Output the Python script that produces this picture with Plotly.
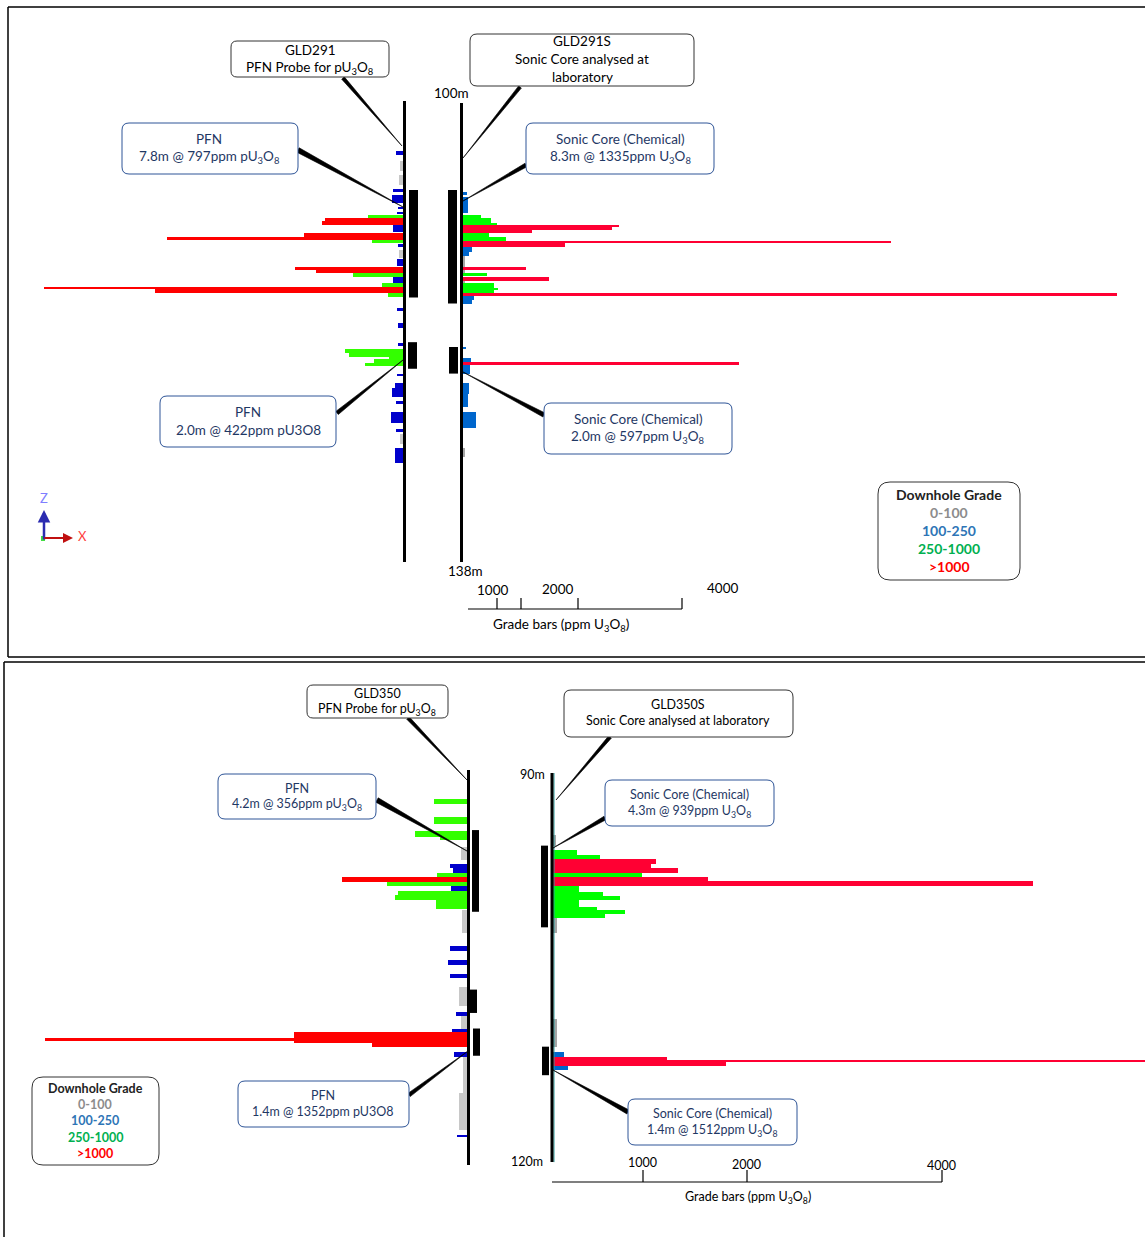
import plotly.graph_objects as go

W, H = 1145, 1237
OFF = 0  # page body margin removed via post_script

# ---------------- DATA ----------------
GRADE_CLASSES = ["0-100", "100-250", "250-1000", ">1000"]

# Panel A - GLD291 (PFN probe, bars plotted to the left)
gld291_from = [104.0, 104.8, 106.0, 107.1, 107.6, 108.6, 109.0, 109.3, 109.5, 109.8,
               110.1, 110.4, 110.8, 111.1, 111.3, 111.7, 112.2, 112.9, 113.6, 113.8,
               114.1, 114.4, 114.9, 115.2, 115.4, 115.7, 117.0, 118.2, 119.9, 120.4,
               120.7, 121.0, 121.2, 121.5, 122.4, 123.2, 123.6, 124.7, 125.6, 127.0,
               127.4, 128.6]
gld291_to = [104.3, 105.6, 106.8, 107.4, 108.3, 108.8, 109.2, 109.5, 109.8, 110.1,
             110.4, 110.7, 111.1, 111.3, 111.6, 111.9, 112.8, 113.5, 113.8, 114.1,
             114.4, 114.9, 115.2, 115.4, 115.7, 116.1, 117.2, 118.6, 120.1, 120.7,
             121.0, 121.2, 121.5, 121.8, 122.6, 123.6, 124.3, 124.9, 126.5, 127.2,
             128.2, 129.8]
gld291_ppm = [131, 56, 75, 187, 206, 93, 112, 654, 1458, 1514,
              187, 187, 1850, 4411, 579, 93, 75, 112, 2019, 1626,
              935, 187, 393, 6710, 4636, 280, 112, 93, 93, 1084,
              1009, 262, 542, 710, 112, 150, 206, 131, 224, 131,
              56, 150]
gld291_cls = [1, 0, 0, 1, 1, 1, 1, 2, 3, 3,
              1, 1, 3, 3, 2, 1, 0, 1, 3, 3,
              2, 1, 2, 3, 3, 2, 1, 1, 1, 2,
              2, 2, 2, 2, 1, 1, 1, 1, 1, 1,
              0, 1]

# Panel A - GLD291S (sonic core, bars plotted to the right)
gld291s_from = [107.4, 107.8, 109.3, 109.5, 109.9, 110.1, 110.3, 110.5, 110.8, 111.1,
                111.4, 111.6, 111.9, 112.3, 112.7, 113.6, 113.85, 114.1, 114.4, 114.7,
                114.9, 115.3, 115.5, 115.7, 116.0, 116.3, 120.2, 121.1, 121.4, 121.7,
                123.2, 124.1, 125.6, 128.6]
gld291s_to = [107.6, 109.1, 109.5, 109.9, 110.1, 110.3, 110.5, 110.8, 111.1, 111.4,
              111.6, 111.9, 112.3, 112.7, 113.6, 113.85, 114.1, 114.3, 114.7, 114.9,
              115.3, 115.5, 115.7, 116.0, 116.3, 116.6, 120.4, 121.4, 121.7, 122.4,
              124.1, 125.2, 126.9, 129.3]
gld291s_ppm = [75, 93, 336, 523, 636, 2916, 2785, 1290, 486, 804,
               8000, 1907, 168, 112, 40, 1178, 40, 449, 1607, 40,
               579, 654, 579, 12224, 206, 168, 56, 150, 5159, 131,
               112, 93, 243, 40]
gld291s_cls = [1, 1, 2, 2, 2, 3, 3, 3, 2, 2,
               3, 3, 1, 1, 0, 3, 0, 2, 3, 0,
               2, 2, 2, 3, 1, 1, 1, 1, 3, 1,
               1, 1, 1, 0]

# Panel B - GLD350 (PFN probe, bars to the left)
gld350_from = [92.0, 93.4, 94.5, 94.9, 95.7, 97.0, 97.3, 97.7, 98.0, 98.4,
               98.7, 99.1, 99.4, 99.8, 100.6, 103.3, 104.4, 105.5, 106.5, 108.4,
               108.7, 109.7, 110.0, 110.4, 110.8, 111.5, 111.9, 114.7, 117.9]
gld350_to = [92.4, 93.9, 94.9, 95.2, 96.7, 97.3, 97.7, 98.0, 98.4, 98.7,
             99.1, 99.4, 99.8, 100.5, 102.3, 103.7, 104.8, 105.8, 108.0, 108.7,
             109.7, 110.0, 110.8, 110.7, 111.1, 111.9, 114.7, 117.5, 118.1]
gld350_ppm = [339, 339, 535, 278, 60, 175, 144, 308, 1285, 823,
              165, 710, 740, 319, 50, 175, 195, 175, 80, 113,
              60, 154, 1779, 4339, 977, 134, 40, 80, 103]
gld350_cls = [2, 2, 2, 2, 0, 1, 1, 2, 3, 2,
              1, 2, 2, 2, 0, 1, 1, 1, 0, 1,
              0, 1, 3, 3, 3, 1, 0, 0, 1]

# Panel B - GLD350S (sonic core, bars to the right)
gld350s_from = [94.8, 95.9, 96.3, 96.6, 97.0, 97.3, 97.7, 98.0, 98.3, 98.7,
                99.2, 99.5, 99.8, 100.3, 100.6, 100.9, 101.2, 109.0, 111.5, 111.9,
                112.2, 112.17, 112.6]
gld350s_to = [95.6, 96.3, 96.6, 97.0, 97.3, 97.7, 98.0, 98.3, 98.7, 99.2,
              99.5, 99.8, 100.3, 100.6, 100.9, 101.2, 102.3, 111.1, 111.9, 112.2,
              112.6, 112.25, 112.9]
gld350s_ppm = [30, 247, 483, 1059, 1008, 1285, 915, 1594, 4936, 267,
               514, 689, 267, 452, 740, 535, 40, 40, 113, 1172,
               1779, 6098, 154]
gld350s_cls = [0, 2, 2, 3, 3, 3, 2, 3, 3, 2,
               2, 2, 2, 2, 2, 2, 0, 0, 1, 3,
               3, 3, 1]

# Mineralised intervals (black blocks)
gld291_int = [(107.2, 116.1), (119.8, 122.0)]
gld291s_int = [(107.2, 116.6), (120.2, 122.4)]
gld350_int = [(94.4, 100.7), (106.7, 108.5), (109.7, 111.8)]
gld350s_int = [(95.6, 101.9), (111.1, 113.3)]

hole_a_depth = (100, 138)
hole_b_depth = (90, 120)
scale_labels = ["1000", "2000", "4000"]

# ---------------- STYLE / LAYOUT ----------------
PFN_COLORS = ["#c8c8c8", "#0000cc", "#33ff00", "#ff0000"]
SONIC_COLORS = ["#a6a6a6", "#0066cc", "#00ff00", "#ff0033"]
LEG_COLORS = ["#8c8c8c", "#2e75b6", "#00b050", "#ff0000"]
FONT = "Lato"
BLUE_TXT = "#1f3864"
BLUE_BORDER = "#2f5597"
FA = 13.5   # panel A text size
FB = 12.5   # panel B text size

# pixel mapping of depth axes
A_PX0, A_D0, A_K = 103, 100.0, 12.08   # panel A: px = 103 + (d-100)*12.08
B_PX0, B_D0, B_K = 773, 90.0, 12.97    # panel B
A_SCALE = 214 / 4000.0   # px per ppm
B_SCALE = 389 / 4000.0

fig = go.Figure()


def add_bars(frm, to, ppm, cls, base, direction, scale, colors, yaxis):
    for c in range(4):
        idx = [i for i in range(len(frm)) if cls[i] == c]
        if not idx:
            continue
        fig.add_trace(go.Bar(
            orientation="h",
            y=[(frm[i] + to[i]) / 2 for i in idx],
            width=[abs(to[i] - frm[i]) for i in idx],
            x=[direction * ppm[i] * scale for i in idx],
            base=base,
            marker=dict(color=colors[c], line=dict(width=0)),
            yaxis=yaxis, xaxis="x", showlegend=False, hoverinfo="skip",
            name=GRADE_CLASSES[c],
        ))


add_bars(gld291_from, gld291_to, gld291_ppm, gld291_cls, 403, -1, A_SCALE, PFN_COLORS, "y")
add_bars(gld291s_from, gld291s_to, gld291s_ppm, gld291s_cls, 463, 1, A_SCALE, SONIC_COLORS, "y")
add_bars(gld350_from, gld350_to, gld350_ppm, gld350_cls, 467, -1, B_SCALE, PFN_COLORS, "y2")
add_bars(gld350s_from, gld350s_to, gld350s_ppm, gld350s_cls, 553, 1, B_SCALE, SONIC_COLORS, "y2")

shapes = []
annotations = []


def pline(x0, y0, x1, y1, color="black", width=1, yref="y3"):
    shapes.append(dict(type="line", xref="x", yref=yref, x0=x0, y0=y0, x1=x1, y1=y1,
                       line=dict(color=color, width=width)))


def rect(x0, y0, x1, y1, yref, fill="black"):
    shapes.append(dict(type="rect", xref="x", yref=yref, x0=x0, y0=y0, x1=x1, y1=y1,
                       fillcolor=fill, line=dict(width=0), layer="above"))


def rrect(x0, y0, x1, y1, r, color, width=1):
    p = (f"M {x0+r},{y0} L {x1-r},{y0} Q {x1},{y0} {x1},{y0+r} L {x1},{y1-r} "
         f"Q {x1},{y1} {x1-r},{y1} L {x0+r},{y1} Q {x0},{y1} {x0},{y1-r} "
         f"L {x0},{y0+r} Q {x0},{y0} {x0+r},{y0} Z")
    shapes.append(dict(type="path", xref="x", yref="y3", path=p, fillcolor="white",
                       line=dict(color=color, width=width), layer="above"))


def wedge(x1, y1, x2, y2, w=4.5):
    dx, dy = x2 - x1, y2 - y1
    L = (dx * dx + dy * dy) ** 0.5
    nx, ny = -dy / L * w / 2, dx / L * w / 2
    p = f"M {x1+nx},{y1+ny} L {x1-nx},{y1-ny} L {x2},{y2} Z"
    shapes.append(dict(type="path", xref="x", yref="y3", path=p, fillcolor="black",
                       line=dict(color="black", width=0.6), layer="above"))


def text(x, y, s, size=12, color="black", bold=False):
    if bold:
        s = f"<b>{s}</b>"
    annotations.append(dict(x=x, y=y, xref="x", yref="y3", text=s, showarrow=False,
                            font=dict(family=FONT, size=size, color=color),
                            xanchor="center", yanchor="middle"))


U3O8 = "U<sub>3</sub>O<sub>8</sub>"

# panel borders
pline(8, 7, W + 5, 7, width=1.5)
pline(8, 7, 8, 657, width=1.5)
pline(8, 657, W + 5, 657, width=1.5)
pline(4, 662, W + 5, 662, width=1.5)
pline(4, 662, 4, H + 5, width=1.5)

# holes (depth axes)
pline(404.5, 99.83, 404.5, hole_a_depth[1], width=3, yref="y")
pline(461.5, hole_a_depth[0], 461.5, hole_a_depth[1], width=3, yref="y")
pline(468.5, 89.77, 468.5, 120.23, width=3, yref="y2")
pline(554.0, hole_b_depth[0], 554.0, hole_b_depth[1], color="#2a9d9d", width=1, yref="y2")
pline(552, hole_b_depth[0], 552, hole_b_depth[1], width=3, yref="y2")

# interval blocks
for (a, b), (x0, x1) in zip(gld291_int, [(409, 418), (408, 417)]):
    rect(x0, a, x1, b, "y")
for (a, b), (x0, x1) in zip(gld291s_int, [(448, 457), (449, 458)]):
    rect(x0, a, x1, b, "y")
for (a, b), (x0, x1) in zip(gld350_int, [(472, 479), (469, 477), (473, 480)]):
    rect(x0, a, x1, b, "y2")
for (a, b), (x0, x1) in zip(gld350s_int, [(541, 548), (542, 549)]):
    rect(x0, a, x1, b, "y2")

# ---- callout wedges ----
wedge(343, 78, 402, 146, 3.5)
wedge(520, 87, 463, 158, 3.5)
wedge(298, 150, 403, 207, 5)
wedge(526, 165, 463, 201, 4)
wedge(337, 413, 403, 360, 4)
wedge(544, 415, 463, 372, 4.5)
wedge(408, 718, 467, 780, 3.5)
wedge(610, 737, 556, 800, 3.5)
wedge(377, 800, 467, 851, 5)
wedge(605, 818, 553, 848, 4)
wedge(409, 1095, 468, 1051, 4)
wedge(628, 1112, 553, 1070, 4.5)

# ---- boxes & text (panel A) ----
rrect(231, 41, 389, 77, 6, "#333333")
text(310, 50, "GLD291", FA)
text(310, 68, f"PFN Probe for p{U3O8}", FA)

rrect(470, 34, 694, 86, 7, "#333333")
text(582, 41, "GLD291S", FA)
text(582, 59, "Sonic Core analysed at", FA)
text(582, 77, "laboratory", FA)

rrect(122, 123, 298, 174, 7, BLUE_BORDER)
text(209, 139, "PFN", FA, BLUE_TXT)
text(209, 157, f"7.8m @ 797ppm p{U3O8}", FA, BLUE_TXT)

rrect(526, 123, 714, 174, 7, BLUE_BORDER)
text(620, 139, "Sonic Core (Chemical)", FA, BLUE_TXT)
text(620, 157, f"8.3m @ 1335ppm {U3O8}", FA, BLUE_TXT)

rrect(160, 396, 336, 447, 7, BLUE_BORDER)
text(248, 412, "PFN", FA, BLUE_TXT)
text(248, 430, "2.0m @ 422ppm pU3O8", FA, BLUE_TXT)

rrect(544, 403, 732, 454, 7, BLUE_BORDER)
text(638, 419, "Sonic Core (Chemical)", FA, BLUE_TXT)
text(638, 437, f"2.0m @ 597ppm {U3O8}", FA, BLUE_TXT)

text(451, 93, "100m", FA)
text(465, 571, "138m", FA)

# scale bar A
pline(468, 609, 682, 609, width=1.2)
for tx in [497, 521, 578, 682]:
    pline(tx, 598, tx, 609, width=1.2)
text(492, 590, scale_labels[0], FA)
text(557, 589, scale_labels[1], FA)
text(722, 588, scale_labels[2], FA)
text(561, 625, f"Grade bars (ppm {U3O8})", FA)

# axis triad
annotations.append(dict(x=44, y=510, ax=44, ay=541, xref="x", yref="y3", axref="x", ayref="y3",
                        showarrow=True, arrowhead=2, arrowsize=1, arrowwidth=2.5,
                        arrowcolor="#2b2bb0", text=""))
annotations.append(dict(x=73, y=538, ax=43, ay=538, xref="x", yref="y3", axref="x", ayref="y3",
                        showarrow=True, arrowhead=2, arrowsize=1, arrowwidth=2,
                        arrowcolor="#c01010", text=""))
rect(41, 536, 45, 541, "y3", fill="#44dd44")
text(44, 498, "Z", 13, "#7f7fff")
text(82, 536, "X", 13, "#ff4040")

# legend A
rrect(878, 482, 1020, 580, 12, "#333333")
text(949, 494, "Downhole Grade", 14, "#222222", bold=True)
for i, yy in enumerate([512, 530, 548, 566]):
    text(949, yy, GRADE_CLASSES[i], 14, LEG_COLORS[i], bold=True)

# ---- boxes & text (panel B) ----
rrect(307, 685, 448, 718, 6, "#333333")
text(377, 693, "GLD350", FB)
text(377, 709, f"PFN Probe for p{U3O8}", FB)

rrect(564, 690, 793, 737, 7, "#333333")
text(678, 704, "GLD350S", FB)
text(678, 720, "Sonic Core analysed at laboratory", FB)

rrect(218, 774, 376, 819, 7, BLUE_BORDER)
text(297, 788, "PFN", FB, BLUE_TXT)
text(297, 804, f"4.2m @ 356ppm p{U3O8}", FB, BLUE_TXT)

rrect(605, 780, 774, 826, 7, BLUE_BORDER)
text(689, 794, "Sonic Core (Chemical)", FB, BLUE_TXT)
text(689, 811, f"4.3m @ 939ppm {U3O8}", FB, BLUE_TXT)

rrect(238, 1081, 409, 1127, 7, BLUE_BORDER)
text(323, 1095, "PFN", FB, BLUE_TXT)
text(323, 1111, "1.4m @ 1352ppm pU3O8", FB, BLUE_TXT)

rrect(628, 1099, 797, 1145, 7, BLUE_BORDER)
text(712, 1113, "Sonic Core (Chemical)", FB, BLUE_TXT)
text(712, 1130, f"1.4m @ 1512ppm {U3O8}", FB, BLUE_TXT)

text(532, 774, "90m", FB)
text(527, 1161, "120m", FB)

# scale bar B
pline(552, 1182, 942, 1182, width=1.2)
for tx in [643, 747, 942]:
    pline(tx, 1170, tx, 1182, width=1.2)
text(642, 1162, scale_labels[0], FB)
text(746, 1164, scale_labels[1], FB)
text(941, 1165, scale_labels[2], FB)
text(748, 1197, f"Grade bars (ppm {U3O8})", FB)

# legend B
rrect(32, 1077, 159, 1165, 11, "#333333")
text(95, 1088, "Downhole Grade", 12.5, "#222222", bold=True)
for i, yy in enumerate([1104, 1120, 1137, 1153]):
    text(95, yy, GRADE_CLASSES[i], 12.5, LEG_COLORS[i], bold=True)


def depth_range(px0, d0, k):
    # screen pixel OFF is the top of the figure, H the bottom
    return [d0 + (H - px0) / k, d0 - (px0 - OFF) / k]


fig.update_layout(
    width=W - OFF, height=H - OFF,
    margin=dict(l=0, r=0, t=0, b=0),
    paper_bgcolor="white", plot_bgcolor="white",
    barmode="overlay", bargap=0,
    showlegend=False,
    xaxis=dict(range=[OFF, W], visible=False, fixedrange=True, domain=[0, 1]),
    yaxis=dict(range=depth_range(A_PX0, A_D0, A_K), visible=False, domain=[0, 1]),
    yaxis2=dict(range=depth_range(B_PX0, B_D0, B_K), visible=False, overlaying="y", domain=[0, 1]),
    yaxis3=dict(range=[H, OFF], visible=False, overlaying="y", domain=[0, 1]),
    shapes=shapes,
    annotations=annotations,
)

fig.write_html("out.html",
               config={"displayModeBar": False},
               post_script="document.body.style.margin='0';document.body.style.overflow='hidden';")
